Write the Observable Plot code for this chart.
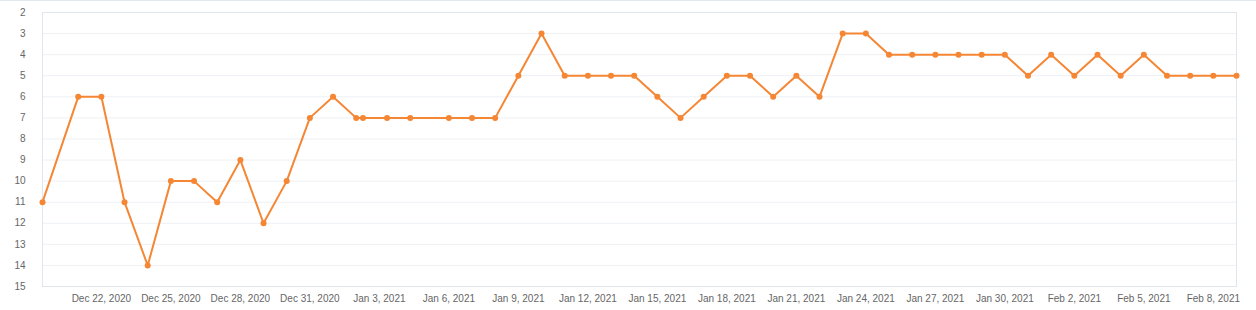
<!DOCTYPE html>
<html>
<head>
<meta charset="utf-8">
<script src="https://cdn.jsdelivr.net/npm/d3@7"></script>
<script src="https://cdn.jsdelivr.net/npm/@observablehq/plot@0.6"></script>
<style>
  html, body { margin: 0; padding: 0; background: #fff; }
  #chart svg { display: block; border-top: 1px solid #e4e8ef; }
</style>
</head>
<body>
<div id="chart"></div>
<script>
const dates = [
  "2020-12-19T11:00Z", "2020-12-21", "2020-12-22", "2020-12-23", "2020-12-24", "2020-12-25",
  "2020-12-26", "2020-12-27", "2020-12-28", "2020-12-29", "2020-12-30", "2020-12-31",
  "2021-01-01", "2021-01-02", "2021-01-02T07:00Z", "2021-01-03T08:00Z", "2021-01-04T08:00Z",
  "2021-01-06", "2021-01-07", "2021-01-08", "2021-01-09", "2021-01-10", "2021-01-11",
  "2021-01-12", "2021-01-13", "2021-01-14", "2021-01-15", "2021-01-16", "2021-01-17",
  "2021-01-18", "2021-01-19", "2021-01-20", "2021-01-21", "2021-01-22", "2021-01-23",
  "2021-01-24", "2021-01-25", "2021-01-26", "2021-01-27", "2021-01-28", "2021-01-29",
  "2021-01-30", "2021-01-31", "2021-02-01", "2021-02-02", "2021-02-03", "2021-02-04",
  "2021-02-05", "2021-02-06", "2021-02-07", "2021-02-08", "2021-02-09"
];
const ranks = [
  11, 6, 6, 11, 14, 10, 10, 11, 9, 12, 10, 7,
  6, 7, 7, 7, 7,
  7, 7, 7, 5, 3, 5, 5, 5, 5, 6, 7, 6, 5, 5, 6, 5, 6, 3, 3, 4, 4, 4, 4, 4, 4, 5,
  4, 5, 4, 5, 4, 5, 5, 5, 5
];
const xTickDates = [
  "2020-12-22", "2020-12-25", "2020-12-28", "2020-12-31", "2021-01-03", "2021-01-06",
  "2021-01-09", "2021-01-12", "2021-01-15", "2021-01-18", "2021-01-21", "2021-01-24",
  "2021-01-27", "2021-01-30", "2021-02-02", "2021-02-05", "2021-02-08"
];
const yTicks = [2, 3, 4, 5, 6, 7, 8, 9, 10, 11, 12, 13, 14, 15];

const parse = s => new Date(s);
const data = dates.map((d, i) => ({date: parse(d), rank: ranks[i]}));
const xt = xTickDates.map(parse);
const fmt = d3.utcFormat("%b %-d, %Y");
const orange = "#f58634";

const chart = Plot.plot({
  width: 1256,
  height: 309,
  marginLeft: 42,
  marginRight: 20,
  marginTop: 11,
  marginBottom: 24,
  style: {fontFamily: "Arial, 'Liberation Sans', sans-serif", fontSize: "10px", color: "#666", background: "#fff"},
  x: {type: "utc", domain: [data[0].date, data[data.length - 1].date]},
  y: {domain: [2, 15], reverse: true},
  marks: [
    Plot.gridY(yTicks, {stroke: "#eef0f4", strokeOpacity: 1}),
    Plot.frame({stroke: "#e1e6ee"}),
    Plot.axisY({ticks: yTicks, tickSize: 0, tickPadding: 17, label: null, fontSize: 10}),
    Plot.axisX({ticks: xt, tickFormat: fmt, tickSize: 0, tickPadding: 8, label: null, fontSize: 10}),
    Plot.line(data, {x: "date", y: "rank", stroke: orange, strokeWidth: 2}),
    Plot.dot(data, {x: "date", y: "rank", fill: orange, r: 3})
  ]
});
document.getElementById("chart").appendChild(chart);
</script>
</body>
</html>
